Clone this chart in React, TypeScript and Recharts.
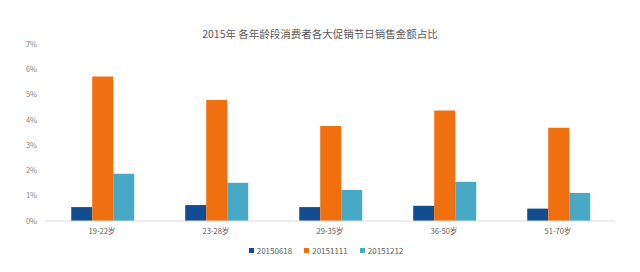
import React from 'react';
import { BarChart, Bar, XAxis, YAxis, Legend } from 'recharts';

const categories = ['19-22岁', '23-28岁', '29-35岁', '36-50岁', '51-70岁'];
const s0618 = [0.0055, 0.0063, 0.0055, 0.006, 0.0049];
const s1111 = [0.0571, 0.0479, 0.0376, 0.0437, 0.0369];
const s1212 = [0.0187, 0.0151, 0.0123, 0.0155, 0.0111];
const yTicks = [0, 0.01, 0.02, 0.03, 0.04, 0.05, 0.06, 0.07];

const data = categories.map((name, i) => ({
  name,
  a: s0618[i],
  b: s1111[i],
  c: s1212[i]
}));

const font = '"Noto Sans CJK SC", "Noto Sans", sans-serif';

// legend with tight spacing like the original
const LegendContent = ({ payload }: any) => (
  <div style={{ display: 'flex', justifyContent: 'center', fontSize: 8, color: '#595959', fontFamily: font }}>
    {(payload || []).map((p: any) => (
      <div key={p.value} style={{ display: 'flex', alignItems: 'center', marginRight: 12 }}>
        <span style={{ display: 'inline-block', width: 5, height: 5, background: p.color, marginRight: 3 }} />
        <span>{p.value}</span>
      </div>
    ))}
  </div>
);

const App = () => {
  return (
    <div style={{ position: 'absolute', left: 0, top: 0, width: 640, height: 272, background: '#fff', fontFamily: font }}>
      <div
        style={{
          position: 'absolute',
          top: 26,
          left: 0,
          width: 640,
          textAlign: 'center',
          fontSize: 10.5,
          color: '#595959'
        }}
      >
        2015年 各年龄段消费者各大促销节日销售金额占比
      </div>
      <BarChart
        width={640}
        height={272}
        data={data}
        margin={{ top: 44, right: 25, left: 0, bottom: 20 }}
        barCategoryGap="23%"
        barGap={0}
      >
        <XAxis
          dataKey="name"
          tickLine={false}
          axisLine={{ stroke: '#d9d9d9' }}
          height={20}
          tick={{ fontSize: 7.5, fill: '#595959', fontFamily: font }}
        />
        <YAxis
          width={45}
          domain={[0, 0.07]}
          ticks={yTicks}
          interval={0}
          axisLine={false}
          tickLine={false}
          tickFormatter={(v: number) => `${Math.round(v * 100)}%`}
          tick={{ fontSize: 7.5, fill: '#7f7f7f', fontFamily: font }}
        />
        <Legend
          verticalAlign="bottom"
          content={<LegendContent />}
          wrapperStyle={{ left: 12, width: 640, bottom: 16 }}
        />
        <Bar dataKey="a" name="20150618" fill="#124c91" isAnimationActive={false} />
        <Bar dataKey="b" name="20151111" fill="#f07010" isAnimationActive={false} />
        <Bar dataKey="c" name="20151212" fill="#48a9c6" isAnimationActive={false} />
      </BarChart>
    </div>
  );
};

export default App;
